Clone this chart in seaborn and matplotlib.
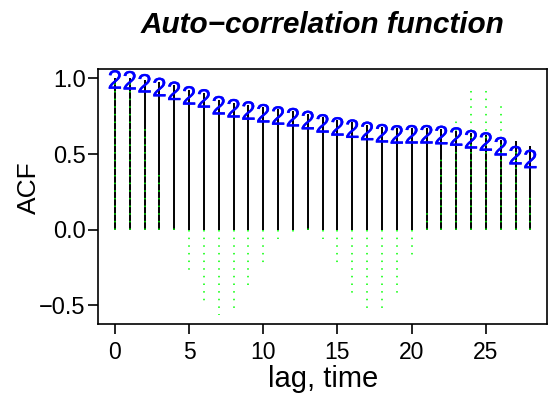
import matplotlib
matplotlib.use("Agg")
import matplotlib.pyplot as plt
import matplotlib.transforms as mtransforms
import matplotlib.patheffects as pe
import seaborn as sns

# lags 0..28
lags = list(range(29))
# sample ACF (black vertical lines)
acf_black = [1.0, 1.0, 0.99, 0.975, 0.955, 0.925, 0.905, 0.86, 0.84, 0.825,
             0.81, 0.795, 0.785, 0.765, 0.745, 0.725, 0.71, 0.695, 0.68, 0.67,
             0.67, 0.67, 0.665, 0.655, 0.64, 0.625, 0.595, 0.585, 0.552]
# second series, printed as blue "2"
acf_two = [0.995, 0.99, 0.97, 0.945, 0.92, 0.89, 0.87, 0.825, 0.805, 0.79,
           0.772, 0.757, 0.746, 0.727, 0.705, 0.685, 0.67, 0.655, 0.64, 0.632,
           0.633, 0.633, 0.628, 0.618, 0.60, 0.585, 0.554, 0.495, 0.47]
# third series, green dotted lines
acf_green = [1.0, 0.97, 0.69, 0.38, 0.02, -0.27, -0.47, -0.565, -0.52, -0.37,
             -0.22, -0.06, -0.02, 0.01, -0.06, -0.22, -0.42, -0.52, -0.52, -0.42,
             -0.17, 0.12, 0.48, 0.73, 0.93, 0.93, 0.83, 0.55, 0.22]

x_ticks = [0, 5, 10, 15, 20, 25]
y_ticks = [-0.5, 0.0, 0.5, 1.0]
y_ticklabels = ["\u22120.5", "0.0", "0.5", "1.0"]

sns.set_theme(style="ticks")
plt.rcParams["font.family"] = ["Liberation Sans", "DejaVu Sans"]
plt.rcParams["text.color"] = "black"
plt.rcParams["axes.labelcolor"] = "black"

fig = plt.figure(figsize=(5.52, 4.01), dpi=100)
ax = fig.add_axes([98.3 / 552, 1 - 324 / 401, (547 - 98.3) / 552, (324 - 69) / 401])

ax.vlines(lags, 0, acf_black, color="black", lw=1.4)
ax.vlines(lags, 0, acf_green, color="#00FF00", lw=1.1, linestyles=[(0, (1, 4))])

fs2 = 19
tr = mtransforms.offset_copy(ax.transData, fig=fig, y=-0.358 * fs2, units="points")
for x, y in zip(lags, acf_two):
    ax.text(x, y, "2", color="#0000FF", fontsize=fs2, ha="center", va="baseline",
            transform=tr,
            path_effects=[pe.withStroke(linewidth=0.3, foreground="#0000FF")])

ax.set_xlim(-1.12, 29.12)
ax.set_ylim(-0.6225, 1.0625)
ax.set_xticks(x_ticks)
ax.set_yticks(y_ticks)
ax.set_yticklabels(y_ticklabels)
for s in ax.spines.values():
    s.set_visible(True)
    s.set_linewidth(1.2)
    s.set_color("black")
ax.tick_params(direction="out", length=7, width=1.2, color="black",
               labelcolor="black")
ax.tick_params(axis="x", pad=5, labelsize=16.5)
ax.tick_params(axis="y", pad=2, labelsize=17)

ax.set_xlabel("lag, time", fontsize=21, va="center")
ax.xaxis.set_label_coords(0.5, -0.215)
ax.set_ylabel("ACF", fontsize=19, va="center")
ax.yaxis.set_label_coords(-0.155, 0.535)

fig.text(0.585, 1 - 25 / 401, "Auto\u2212correlation function", fontsize=21.4,
         fontweight="bold", fontstyle="italic", ha="center", va="center")

fig.savefig("out.png", dpi=100)
